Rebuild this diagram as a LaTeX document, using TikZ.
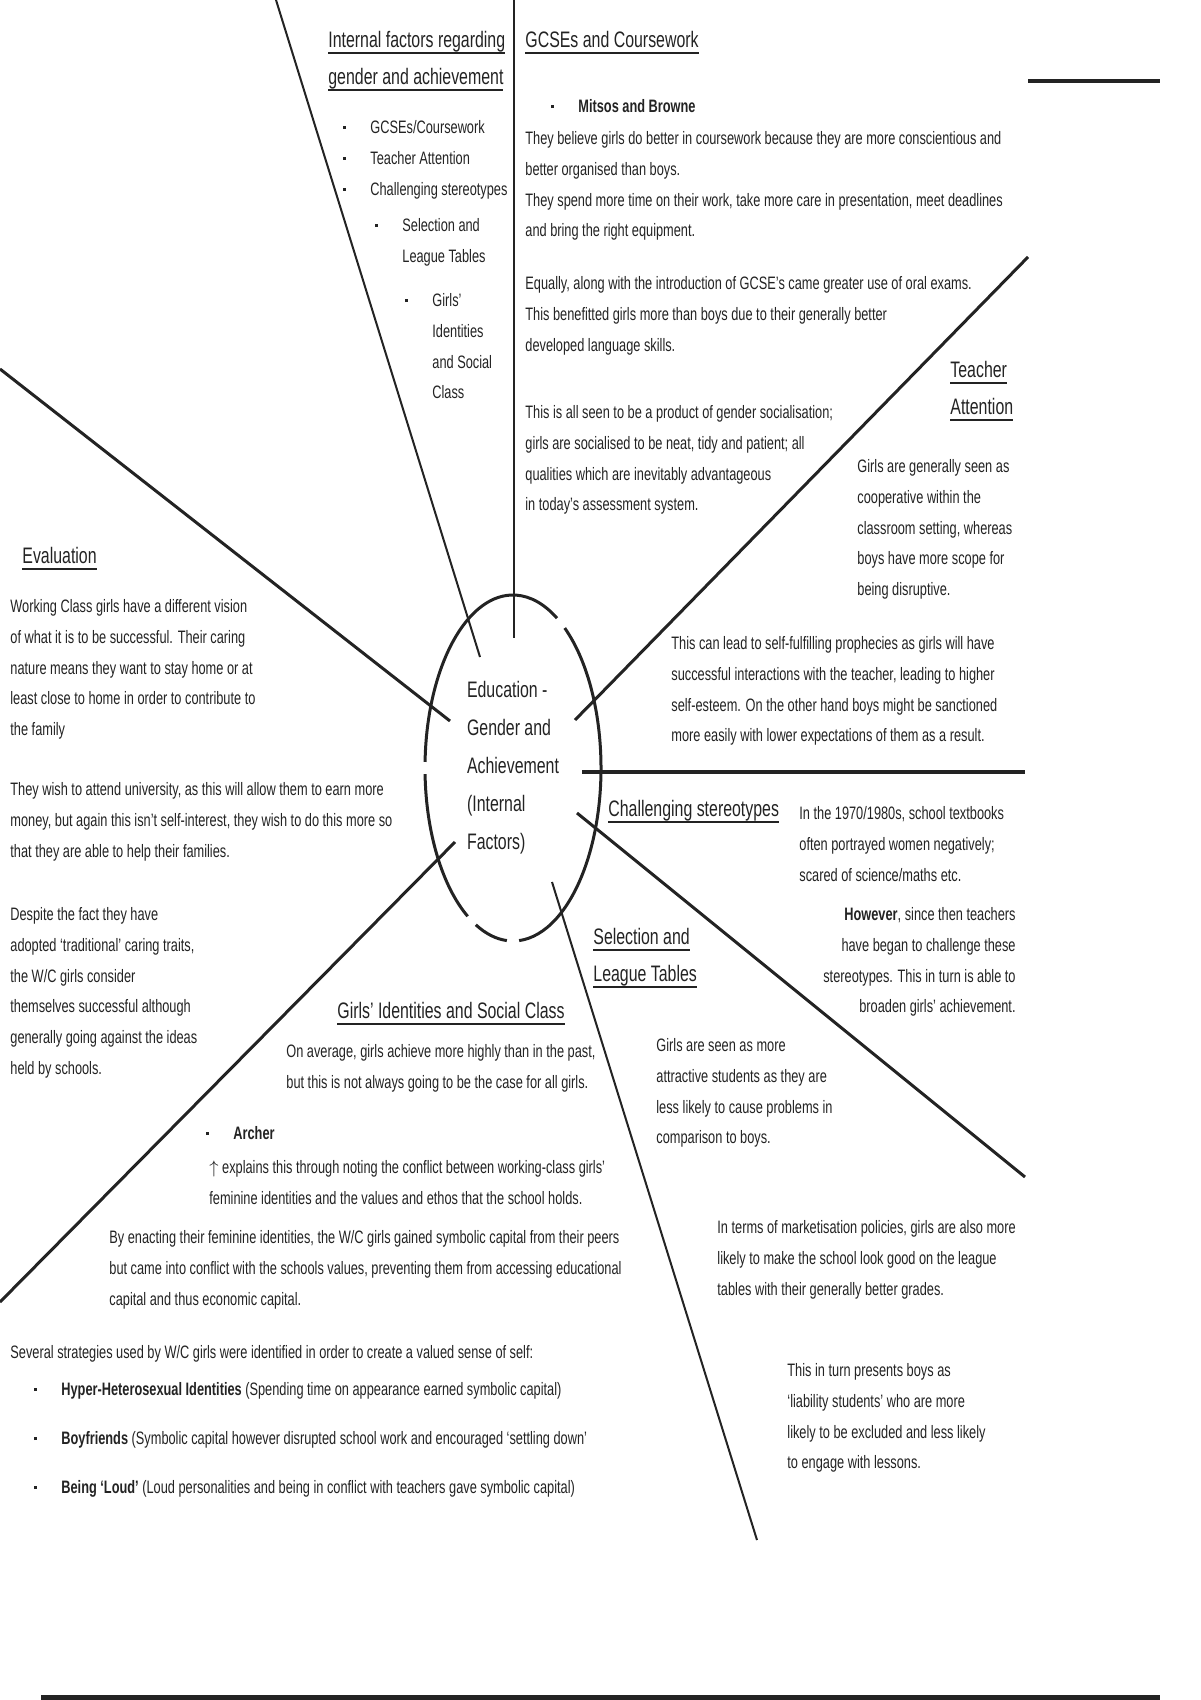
\documentclass[tikz,border=0pt]{standalone}
\usepackage{fontspec}
\setmainfont{Liberation Sans}[FakeStretch=0.71]
\usetikzlibrary{shapes.geometric}
\definecolor{inkcol}{RGB}{35, 35, 35}
\newcommand{\itemdot}{\makebox[13.5pt][l]{\raisebox{2.2pt}{\rule{1.5pt}{1.5pt}}}}
\newcommand{\undl}[1]{\leavevmode\setbox0=\hbox{#1}\copy0\kern-\wd0\raisebox{-3.4pt}[0pt][0pt]{\rule{\wd0}{1.2pt}}}
\tikzset{
  heading/.style={anchor=north west, inner sep=0pt, align=left, text=inkcol,
                  font=\fontsize{11.2}{18.5}\selectfont},
  para/.style={anchor=north west, inner sep=0pt, align=left, text=inkcol,
               font=\fontsize{9}{15.4}\selectfont},
  spoke/.style={draw=inkcol, line width=1pt},
  heavy/.style={draw=inkcol, line width=1.5pt},
  ring/.style={draw=inkcol, line width=1.5pt},
}

\begin{document}
\begin{tikzpicture}[x=0.5pt, y=-0.5pt]
  \useasboundingbox (0,0) rectangle (1200,1700);

  \node[ellipse, minimum width=88pt, minimum height=173pt, inner sep=0pt,
        align=left, text=inkcol, font=\fontsize{11.2}{19}\selectfont]
        (hub) at (513,768) {Education -\\Gender and\\Achievement\\(Internal\\Factors)};
  \foreach \sa/\ea in {-54/86, 94/115, 121/178, 182/300}
    \draw[ring] (hub.center) ++(\sa:88 and 173)
      arc[start angle=\sa, end angle=\ea, x radius=88, y radius=173];

  \coordinate (n out) at (514,0);     \coordinate (n in) at (514,638);
  \coordinate (nnw out) at (276,0);   \coordinate (nnw in) at (480,657);
  \coordinate (wnw out) at (0,369);   \coordinate (wnw in) at (450,721);
  \coordinate (ne out) at (1028,257); \coordinate (ne in) at (575,720);
  \coordinate (e in) at (582,772);    \coordinate (e out) at (1025,772);
  \coordinate (se in) at (577,813);   \coordinate (se out) at (1025,1177);
  \coordinate (sse in) at (552,882);  \coordinate (sse out) at (757,1540);
  \coordinate (sw in) at (455,842);   \coordinate (sw out) at (0,1302);
  \coordinate (rule a) at (1028,81);  \coordinate (rule b) at (1160,81);
  \coordinate (foot a) at (41,1697);  \coordinate (foot b) at (1160,1697);

  \draw[spoke] (n out) -- (n in);
  \draw[spoke] (nnw out) -- (nnw in);
  \draw[heavy] (wnw out) -- (wnw in);
  \draw[heavy] (ne out) -- (ne in);
  \draw[draw=inkcol, line width=2pt] (e in) -- (e out);
  \draw[heavy] (se in) -- (se out);
  \draw[spoke] (sse in) -- (sse out);
  \draw[heavy] (sw in) -- (sw out);
  \draw[draw=inkcol, line width=1.6pt] (rule a) -- (rule b);
  \draw[draw=inkcol, line width=2.5pt] (foot a) -- (foot b);

  % headings
  \node[heading] (intro head) at (328,31) {\undl{Internal factors regarding}\\\undl{gender and achievement}};
  \node[heading] (gcse head) at (525,31) {\undl{GCSEs and Coursework}};
  \node[heading] (teacher head) at (950,361) {\undl{Teacher}\\\undl{Attention}};
  \node[heading] (eval head) at (22,547) {\undl{Evaluation}};
  \node[heading] (stereo head) at (608,800) {\undl{Challenging stereotypes}};
  \node[heading] (select head) at (593,928) {\undl{Selection and}\\\undl{League Tables}};
  \node[heading] (identity head) at (337,1002) {\undl{Girls' Identities and Social Class}};

  % overview list
  \node[para] (intro list) at (343,120) {\itemdot GCSEs/Coursework\\\itemdot Teacher Attention\\\itemdot Challenging stereotypes};
  \node[para] (intro sub) at (375,218) {\itemdot Selection and\\\hspace*{13.5pt}League Tables};
  \node[para] (intro subsub) at (405,293) {\itemdot Girls'\\\hspace*{13.5pt}Identities\\\hspace*{13.5pt}and Social\\\hspace*{13.5pt}Class};

  % GCSEs and coursework
  \node[para] (mitsos) at (551,99) {\itemdot\textbf{Mitsos and Browne}};
  \node[para] (gcse p1) at (525,131) {They believe girls do better in coursework because they are more conscientious and\\better organised than boys.\\They spend more time on their work, take more care in presentation, meet deadlines\\and bring the right equipment.};
  \node[para] (gcse p2) at (525,276) {Equally, along with the introduction of GCSE's came greater use of oral exams.\\This benefitted girls more than boys due to their generally better\\developed language skills.};
  \node[para] (gcse p3) at (525,405) {This is all seen to be a product of gender socialisation;\\girls are socialised to be neat, tidy and patient; all\\qualities which are inevitably advantageous\\in today's assessment system.};

  % teacher attention
  \node[para] (teacher p1) at (857,459) {Girls are generally seen as\\cooperative within the\\classroom setting, whereas\\boys have more scope for\\being disruptive.};
  \node[para] (teacher p2) at (671,636) {This can lead to self-fulfilling prophecies as girls will have\\successful interactions with the teacher, leading to higher\\self-esteem. On the other hand boys might be sanctioned\\more easily with lower expectations of them as a result.};

  % evaluation
  \node[para] (eval p1) at (10,599) {Working Class girls have a different vision\\of what it is to be successful. Their caring\\nature means they want to stay home or at\\least close to home in order to contribute to\\the family};
  \node[para] (eval p2) at (10,782) {They wish to attend university, as this will allow them to earn more\\money, but again this isn't self-interest, they wish to do this more so\\that they are able to help their families.};
  \node[para] (eval p3) at (10,907) {Despite the fact they have\\adopted `traditional' caring traits,\\the W/C girls consider\\themselves successful although\\generally going against the ideas\\held by schools.};

  % challenging stereotypes
  \node[para] (stereo p1) at (799,806) {In the 1970/1980s, school textbooks\\often portrayed women negatively;\\scared of science/maths etc.};
  \node[para, anchor=north east, align=right] (stereo p2) at (1016,907) {\textbf{However}, since then teachers\\have began to challenge these\\stereotypes. This in turn is able to\\broaden girls' achievement.};

  % selection and league tables
  \node[para] (select p1) at (656,1038) {Girls are seen as more\\attractive students as they are\\less likely to cause problems in\\comparison to boys.};
  \node[para] (select p2) at (717,1220) {In terms of marketisation policies, girls are also more\\likely to make the school look good on the league\\tables with their generally better grades.};
  \node[para] (select p3) at (787,1363) {This in turn presents boys as\\`liability students' who are more\\likely to be excluded and less likely\\to engage with lessons.};

  % girls' identities and social class
  \node[para] (identity p1) at (286,1044) {On average, girls achieve more highly than in the past,\\but this is not always going to be the case for all girls.};
  \node[para] (archer) at (206,1126) {\itemdot\textbf{Archer}};
  \node[para] (archer p1) at (209,1160) {$\uparrow$ explains this through noting the conflict between working-class girls'\\feminine identities and the values and ethos that the school holds.};
  \node[para] (capital p1) at (109,1230) {By enacting their feminine identities, the W/C girls gained symbolic capital from their peers\\but came into conflict with the schools values, preventing them from accessing educational\\capital and thus economic capital.};
  \node[para] (strategy p1) at (10,1345) {Several strategies used by W/C girls were identified in order to create a valued sense of self:};
  \node[para, font=\fontsize{9}{24.5}\selectfont] (strategy list) at (34,1382) {\itemdot\textbf{Hyper-Heterosexual Identities} (Spending time on appearance earned symbolic capital)\\\itemdot\textbf{Boyfriends} (Symbolic capital however disrupted school work and encouraged `settling down'\\\itemdot\textbf{Being `Loud'} (Loud personalities and being in conflict with teachers gave symbolic capital)};
\end{tikzpicture}
\end{document}
